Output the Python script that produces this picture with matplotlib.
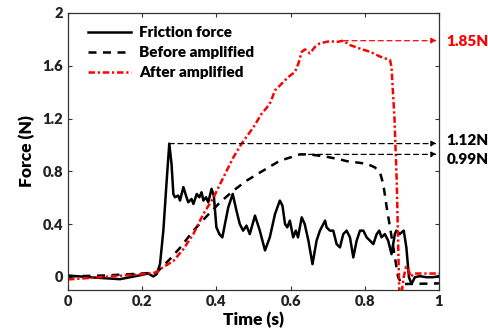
import numpy as np
import matplotlib.pyplot as plt

plt.rcParams['font.family'] = ['Lato', 'DejaVu Sans']
plt.rcParams['font.weight'] = 'bold'

# friction force (solid black)
fric_t = [0.0, 0.068, 0.14, 0.2, 0.216, 0.23, 0.239, 0.248, 0.257, 0.266, 0.273, 0.279,
          0.284, 0.288, 0.297, 0.302, 0.311, 0.318, 0.324, 0.333, 0.338, 0.347, 0.354,
          0.36, 0.365, 0.372, 0.378, 0.387, 0.393, 0.4, 0.408, 0.416, 0.423, 0.432,
          0.444, 0.454, 0.463, 0.472, 0.481, 0.49, 0.504, 0.517, 0.531, 0.544, 0.558,
          0.571, 0.578, 0.585, 0.591, 0.598, 0.607, 0.614, 0.62, 0.63, 0.638, 0.648,
          0.659, 0.67, 0.679, 0.693, 0.697, 0.706, 0.715, 0.724, 0.733, 0.742, 0.751,
          0.76, 0.769, 0.778, 0.787, 0.796, 0.805, 0.814, 0.823, 0.832, 0.839, 0.845,
          0.854, 0.863, 0.872, 0.881, 0.885, 0.894, 0.905, 0.912, 0.919, 0.926, 0.935,
          0.948, 0.966, 0.984, 1.0]
fric_f = [0.01, -0.005, -0.018, 0.015, 0.025, 0.003, 0.02, 0.096, 0.35, 0.73, 1.01, 0.857,
          0.628, 0.603, 0.616, 0.578, 0.68, 0.616, 0.565, 0.59, 0.552, 0.628, 0.603,
          0.641, 0.578, 0.603, 0.565, 0.667, 0.616, 0.375, 0.324, 0.299, 0.40, 0.527,
          0.628, 0.502, 0.40, 0.35, 0.388, 0.324, 0.464, 0.35, 0.2, 0.3, 0.476,
          0.578, 0.54, 0.40, 0.375, 0.426, 0.299, 0.35, 0.299, 0.451, 0.40, 0.274,
          0.096, 0.274, 0.35, 0.426, 0.375, 0.35, 0.35, 0.248, 0.223, 0.324, 0.35,
          0.299, 0.147, 0.274, 0.35, 0.35, 0.299, 0.274, 0.248, 0.324, 0.35, 0.299,
          0.324, 0.274, 0.172, 0.324, 0.35, 0.324, 0.35, 0.223, -0.003, -0.054, -0.003,
          0.005, -0.003, -0.003, 0.005]

# before amplified (dashed black)
before_t = [0.0, 0.1, 0.2, 0.239, 0.275, 0.302, 0.338, 0.374, 0.41, 0.446, 0.482, 0.517,
            0.571, 0.625, 0.652, 0.697, 0.733, 0.751, 0.805, 0.827, 0.841, 0.85, 0.859,
            0.868, 0.877, 0.884, 0.89, 0.9, 1.0]
before_f = [0.003, 0.01, 0.025, 0.033, 0.135, 0.22, 0.35, 0.46, 0.565, 0.654, 0.73, 0.79,
            0.88, 0.928, 0.928, 0.91, 0.89, 0.877, 0.857, 0.83, 0.79, 0.70, 0.527,
            0.375, 0.22, 0.097, -0.005, -0.055, -0.05]

# after amplified (red dash-dot)
after_t = [0.0, 0.1, 0.2, 0.239, 0.248, 0.284, 0.311, 0.338, 0.365, 0.392, 0.419, 0.446,
           0.468, 0.5, 0.522, 0.536, 0.546, 0.558, 0.571, 0.594, 0.612, 0.621, 0.63,
           0.639, 0.652, 0.666, 0.679, 0.706, 0.724, 0.742, 0.76, 0.787, 0.814, 0.841,
           0.868, 0.872, 0.88, 0.886, 0.893, 0.898, 0.905, 0.911, 0.918, 0.924, 0.932, 1.0]
after_f = [-0.02, 0.0, 0.02, 0.033, 0.058, 0.12, 0.21, 0.325, 0.477, 0.60, 0.755, 0.907,
           1.01, 1.135, 1.237, 1.283, 1.325, 1.414, 1.45, 1.515, 1.554, 1.617, 1.706,
           1.724, 1.694, 1.744, 1.77, 1.787, 1.78, 1.79, 1.757, 1.73, 1.706, 1.67,
           1.643, 1.59, 1.2, 0.73, -0.12, -0.15, 0.0, 0.076, 0.05, 0.0, 0.025, 0.025]

peak_labels = ['1.85N', '1.12N', '0.99N']

fig = plt.figure(figsize=(4.89, 3.35), dpi=100)
ax = fig.add_axes([68/489, 45/335, 371/489, 277/335])

ax.plot(fric_t, fric_f, color='black', lw=1.8, label='Friction force')
ax.plot(before_t, before_f, color='black', lw=1.8, ls=(0, (3.2, 2.6)), label='Before amplified')
ax.plot(after_t, after_f, color='red', lw=1.8, ls=(0, (2.6, 1.1, 0.9, 1.1)), label='After amplified')

# peak arrows
i_a = int(np.argmax(after_f))
i_f = int(np.argmax(fric_f))
i_b = int(np.argmax(before_f))
arrows = [(after_t[i_a], after_f[i_a], 'red', 1.782),
          (fric_t[i_f], fric_f[i_f], 'black', 1.034),
          (before_t[i_b], before_f[i_b], 'black', 0.887)]
for (x0, y0, c, ty), lab in zip(arrows, peak_labels):
    ax.annotate('', xy=(0.994, y0), xytext=(x0, y0),
                arrowprops=dict(arrowstyle='-|>', color=c, lw=0.9, ls=(0, (4, 3)),
                                mutation_scale=8, shrinkA=0, shrinkB=0))
    ax.text(1.02, ty, lab, color=c, fontsize=11, fontweight='heavy', va='center',
            ha='left', clip_on=False)

ax.set_xlim(0, 1)
ax.set_ylim(-0.1, 2)
ax.set_xticks([0, 0.2, 0.4, 0.6, 0.8, 1])
ax.set_xticklabels(['0', '0.2', '0.4', '0.6', '0.8', '1'])
ax.set_yticks([0, 0.4, 0.8, 1.2, 1.6, 2])
ax.set_yticklabels(['0', '0.4', '0.8', '1.2', '1.6', '2'])
ax.tick_params(direction='in', top=True, right=True, labelsize=10.5, length=3,
               color='#333333', labelcolor='#222222')
for t in ax.get_xticklabels() + ax.get_yticklabels():
    t.set_fontweight('heavy')
for s in ax.spines.values():
    s.set_color('#333333')
    s.set_linewidth(0.9)
ax.set_xlabel('Time (s)', fontsize=12.5, fontweight='heavy', labelpad=3)
ax.set_ylabel('Force (N)', fontsize=12.5, fontweight='heavy', labelpad=5)

leg = ax.legend(loc='upper left', frameon=False, handlelength=2.8,
                handletextpad=0.5, labelspacing=0.45, borderaxespad=0.2,
                bbox_to_anchor=(0.03, 0.985), prop={'weight': 'heavy', 'size': 11})

fig.savefig('out.png', dpi=100)
